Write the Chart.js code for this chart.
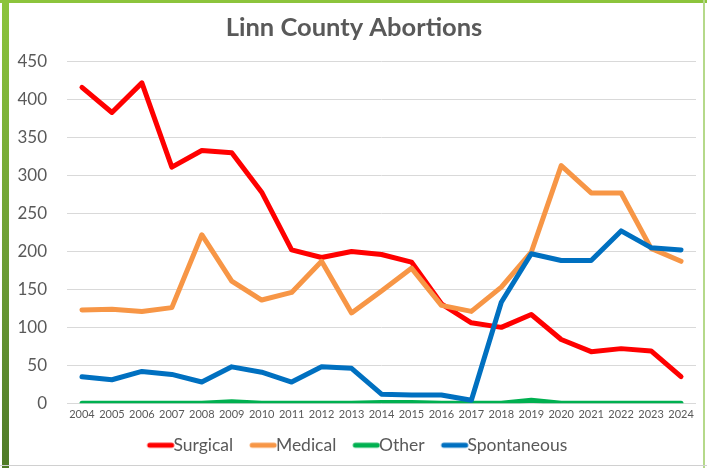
<!DOCTYPE html>
<html>
<head>
<meta charset="utf-8">
<script src="https://cdn.jsdelivr.net/npm/chart.js@4.4.1/dist/chart.umd.min.js"></script>
<style>
  html, body { margin: 0; padding: 0; background: #ffffff; }
  #wrap { position: relative; width: 707px; height: 468px; overflow: hidden; background: #fff; }
  #leftbar { position: absolute; left: 2px; top: 0; width: 7px; height: 468px;
    background: linear-gradient(#8cc43c, #6a9a34 60%, #4f7a26); }
  #topbar { position: absolute; left: 0; top: 0; width: 707px; height: 3px; background: #8cc43c; }
  #rightbar { position: absolute; left: 703px; top: 0; width: 2px; height: 468px; background: #b5d98a; }
  #bottomline { position: absolute; left: 0; top: 465px; width: 707px; height: 1px; background: #d0d0d0; }
  canvas { position: absolute; left: 0; top: 0; }
</style>
</head>
<body>
<div id="wrap">
  <canvas id="c" width="707" height="468"></canvas>
  <div id="leftbar"></div>
  <div id="topbar"></div>
  <div id="rightbar"></div>
  <div id="bottomline"></div>
</div>
<script>
const years = ["2004","2005","2006","2007","2008","2009","2010","2011","2012","2013","2014","2015","2016","2017","2018","2019","2020","2021","2022","2023","2024"];
const surgical = [416, 383, 422, 311, 333, 330, 278, 202, 192, 200, 196, 186, 131, 106, 100, 117, 84, 68, 72, 69, 35];
const medical = [123, 124, 121, 126, 222, 161, 136, 146, 187, 119, 148, 178, 129, 121, 153, 199, 313, 277, 277, 204, 187];
const other = [0, 0, 0, 0, 0, 2, 0, 0, 0, 0, 1, 1, 0, 0, 0, 4, 0, 0, 0, 0, 0];
const spontaneous = [35, 31, 42, 38, 28, 48, 41, 28, 48, 46, 12, 11, 11, 4, 133, 197, 188, 188, 227, 205, 202];
const seriesNames = ["Surgical", "Medical", "Other", "Spontaneous"];
const seriesColors = ["#ff0000", "#f79646", "#00b050", "#0070c0"];
const yTicks = [0, 50, 100, 150, 200, 250, 300, 350, 400, 450];

const FONT = "Lato, 'Liberation Sans', sans-serif";
const GRAY = "#595959";
const LEGEND_FS = 17.5;
const MARK_W = 24;

function markerImage(color) {
  const w = 50, h = 8;
  const cv = document.createElement('canvas');
  cv.width = w; cv.height = h;
  const g = cv.getContext('2d');
  g.strokeStyle = color; g.lineWidth = 5; g.lineCap = 'round';
  g.beginPath();
  g.moveTo(w / 2 - 3, h / 2);
  g.lineTo(w / 2 + 19, h / 2);
  g.stroke();
  return cv;
}

const dataArrays = [surgical, medical, other, spontaneous];
const datasets = dataArrays.map((arr, i) => ({
  label: seriesNames[i],
  data: arr,
  borderColor: seriesColors[i],
  backgroundColor: seriesColors[i],
  borderWidth: 5,
  pointRadius: 0,
  pointHoverRadius: 0,
  tension: 0,
  fill: false,
  borderJoinStyle: 'round',
  borderCapStyle: 'round',
  order: 4 - i
}));

new Chart(document.getElementById('c'), {
  type: 'line',
  data: { labels: years, datasets },
  options: {
    responsive: false,
    animation: false,
    devicePixelRatio: 1,
    layout: { padding: { left: 12, right: 11, top: 6, bottom: 4 } },
    plugins: {
      title: {
        display: true,
        text: 'Linn County Abortions',
        color: GRAY,
        font: { family: FONT, size: 25.5, weight: 'bold' },
        padding: { top: 6, bottom: 19 }
      },
      legend: {
        position: 'bottom',
        labels: {
          color: GRAY,
          font: { family: FONT, size: LEGEND_FS },
          usePointStyle: true,
          pointStyleWidth: MARK_W,
          boxHeight: 8,
          padding: 10,
          generateLabels(chart) {
            const items = Chart.defaults.plugins.legend.labels.generateLabels(chart);
            items.sort((a, b) => a.datasetIndex - b.datasetIndex);
            items.forEach(it => { it.pointStyle = markerImage(seriesColors[it.datasetIndex]); });
            return items;
          }
        }
      },
      tooltip: { enabled: false }
    },
    scales: {
      x: {
        offset: true,
        grid: { display: false, drawTicks: false },
        border: { display: false },
        ticks: { color: GRAY, font: { family: FONT, size: 11 }, padding: 5, maxRotation: 0, autoSkip: false }
      },
      y: {
        min: 0,
        max: 450,
        afterBuildTicks(scale) { scale.ticks = yTicks.map(v => ({ value: v })); },
        afterFit(scale) { scale.width = 55; },
        grid: { color: '#d9d9d9', lineWidth: 1, drawTicks: false },
        border: { display: false },
        ticks: { color: GRAY, font: { family: FONT, size: 17 }, padding: 20 }
      }
    }
  }
});
</script>
</body>
</html>
